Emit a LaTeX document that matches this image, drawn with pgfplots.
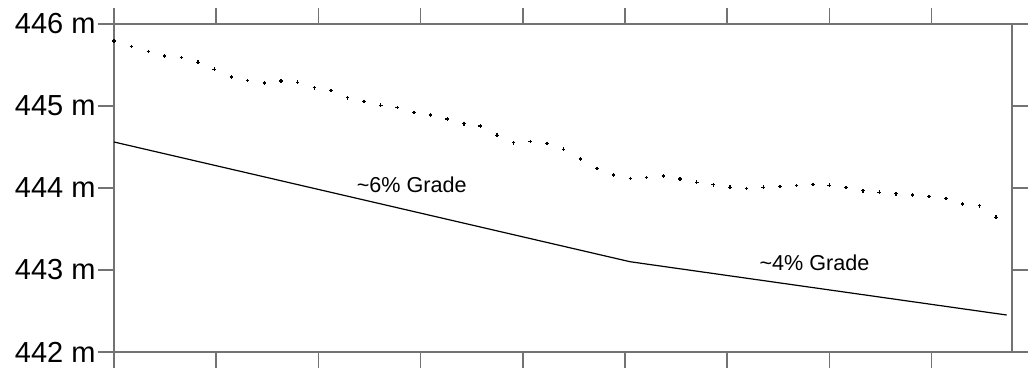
\documentclass[border=0pt]{standalone}
\usepackage{fontspec}
\setmainfont{Liberation Sans}
\usepackage{pgfplots}
\pgfplotsset{compat=1.18}
\begin{document}
\begin{tikzpicture}[x=0.5pt,y=0.5pt]
\useasboundingbox (-114,-16) rectangle (915,352);
\begin{axis}[
  at={(0,0)}, anchor=south west,
  scale only axis, width=449pt, height=164pt,
  xmin=0, xmax=878.7, ymin=442, ymax=446,
  xtick={0,100,...,800}, xticklabels={},
  ytick={442,443,444,445,446},
  yticklabels={442 m,443 m,444 m,445 m,446 m},
  tick align=outside,
  major tick length=8pt,
  axis line style={draw=black!55, line width=1pt},
  every tick/.style={draw=black!55, line width=0.75pt},
  yticklabel style={font=\fontsize{14.5}{16}\selectfont, inner sep=1pt},
  xtick pos=both, ytick pos=both,
  yticklabel pos=left,
  clip=false,
]
\addplot[only marks, mark=+, mark size=0.9pt, mark options={line width=0.75pt, black}] coordinates {
(0,445.793) (17.3,445.728) (33.6,445.667) (49.6,445.610) (65.9,445.589)
(82.2,445.533) (98.1,445.448) (114.8,445.354) (130.8,445.309) (147.1,445.280)
(163.4,445.305) (179.7,445.289) (196.0,445.223) (212.3,445.187) (228.3,445.101)
(244.6,445.057) (261.0,445.009) (277.2,444.984) (293.5,444.923) (309.5,444.890)
(326.1,444.841) (342.5,444.784) (358.4,444.756) (375.0,444.643) (391.1,444.552)
(407.3,444.565) (423.7,444.545) (440.0,444.472) (456.3,444.354) (472.6,444.240)
(488.9,444.159) (505.2,444.118) (521.2,444.130) (537.5,444.146) (553.8,444.110)
(570.2,444.070) (586.4,444.040) (602.7,444.009) (618.9,443.996) (635.3,444.009)
(651.7,444.016) (668.0,444.028) (684.2,444.045) (699.9,444.033) (716.2,444.004)
(732.9,443.967) (748.8,443.948) (765.2,443.930) (781.5,443.915) (797.7,443.894)
(814.1,443.874) (830.4,443.805) (846.7,443.784) (863.0,443.643)
};
\addplot[black, line width=0.6pt] coordinates {(0,444.561) (504.9,443.101) (873.5,442.451)};
\node[font=\fontsize{10.8}{13}\selectfont] at (axis cs:291.3,444.037) {\textasciitilde 6\% Grade};
\node[font=\fontsize{10.8}{13}\selectfont] at (axis cs:685.4,443.091) {\textasciitilde 4\% Grade};
\end{axis}
\end{tikzpicture}
\end{document}
